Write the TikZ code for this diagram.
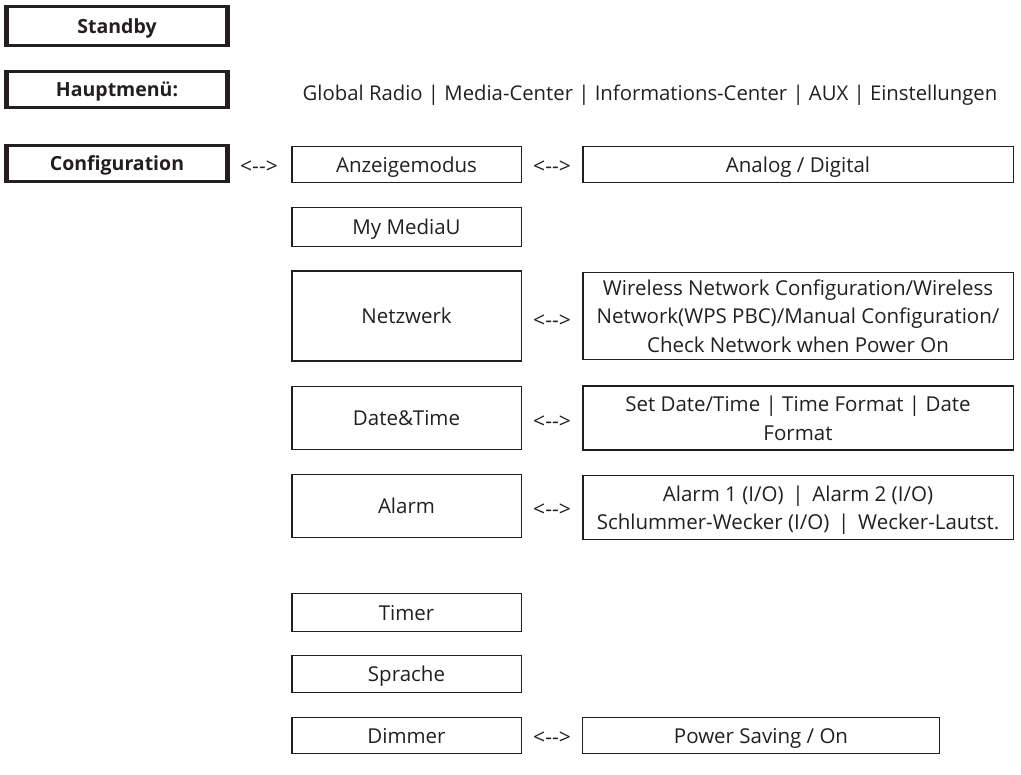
\documentclass[tikz,border=0pt]{standalone}
\usepackage{fontspec}
\setmainfont{Open Sans}
\definecolor{ink}{HTML}{231F20}
\begin{document}
\begin{tikzpicture}[x=1pt,y=-1pt,
  every node/.style={text=ink},
  lbl/.style={font=\fontsize{20.3}{28}\selectfont, inner sep=0pt},
  thickbox/.style={draw=ink, line width=3pt, outer sep=0pt, inner sep=0pt, text depth=0pt,
    font=\bfseries\fontsize{19.5}{22}\selectfont,
    append after command={
      (\tikzlastnode.north west) edge[draw=ink, line width=5pt, shorten <=-1.5pt, shorten >=-1.5pt] (\tikzlastnode.south west)
      (\tikzlastnode.north east) edge[draw=ink, line width=5pt, shorten <=-1.5pt, shorten >=-1.5pt] (\tikzlastnode.south east)}},
  box/.style={draw=ink, line width=1.5pt, outer sep=0pt, inner sep=0pt, align=center, text depth=0pt,
    font=\fontsize{20.5}{28.5}\selectfont},
  midbox/.style={box, minimum width=229.5pt},
  rightbox/.style={box, minimum width=430.5pt},
  arr/.style={lbl, font=\fontsize{21}{22}\selectfont}
]
\useasboundingbox (0,0) rectangle (1021,775);

% left column
\node[thickbox, minimum width=221pt, minimum height=39pt] (standby) at (117,26) {Standby};
\node[thickbox, minimum width=221pt, minimum height=36pt] (haupt) at (117,89.5) {Hauptmenü:};
\node[thickbox, minimum width=221pt, minimum height=36pt] (config) at (117,163.5) {Configuration};
\node[lbl] (hauptitems) at (650,95) {Global Radio | Media-Center | Informations-Center | AUX | Einstellungen};
\node[arr] (a0) at (259,167) {<{-}{-}>};

% middle column
\node[midbox, minimum height=36pt] (anz) at (406.5,164.5) {Anzeigemodus};
\node[midbox, minimum height=39pt] (mymedia) at (406.5,227) {My MediaU};
\node[midbox, minimum height=90pt] (netz) at (406.5,316) {Netzwerk};
\node[midbox, minimum height=63pt] (date) at (406.5,418) {Date\&Time};
\node[midbox, minimum height=63pt] (alarm) at (406.5,506) {Alarm};
\node[midbox, minimum height=38pt] (timer) at (406.5,612.5) {Timer};
\node[midbox, minimum height=37pt] (sprache) at (406.5,674) {Sprache};
\node[midbox, minimum height=36pt] (dimmer) at (406.5,735.5) {Dimmer};

% arrows
\node[arr] (a1) at (552,167) {<{-}{-}>};
\node[arr] (a2) at (552,321) {<{-}{-}>};
\node[arr] (a3) at (552,422) {<{-}{-}>};
\node[arr] (a4) at (552,510) {<{-}{-}>};
\node[arr] (a5) at (552,738) {<{-}{-}>};

% right column
\node[rightbox, minimum height=36pt] (anzR) at (798,164.5) {Analog / Digital};
\node[rightbox, minimum height=87pt] (netzR) at (798,316) {Wireless Network Configuration/Wireless\\Network(WPS PBC)/Manual Configuration/\\Check Network when Power On};
\node[rightbox, minimum height=64pt] (dateR) at (798,418) {Set Date/Time | Time Format | Date\\Format};
\node[rightbox, minimum height=64pt] (alarmR) at (798,507.5) {Alarm 1 (I/O) \,|\, Alarm 2 (I/O)\\Schlummer-Wecker (I/O) \,|\, Wecker-Lautst.};
\node[box, minimum width=357pt, minimum height=36pt] (dimmerR) at (761,735.5) {Power Saving / On};
\end{tikzpicture}
\end{document}
